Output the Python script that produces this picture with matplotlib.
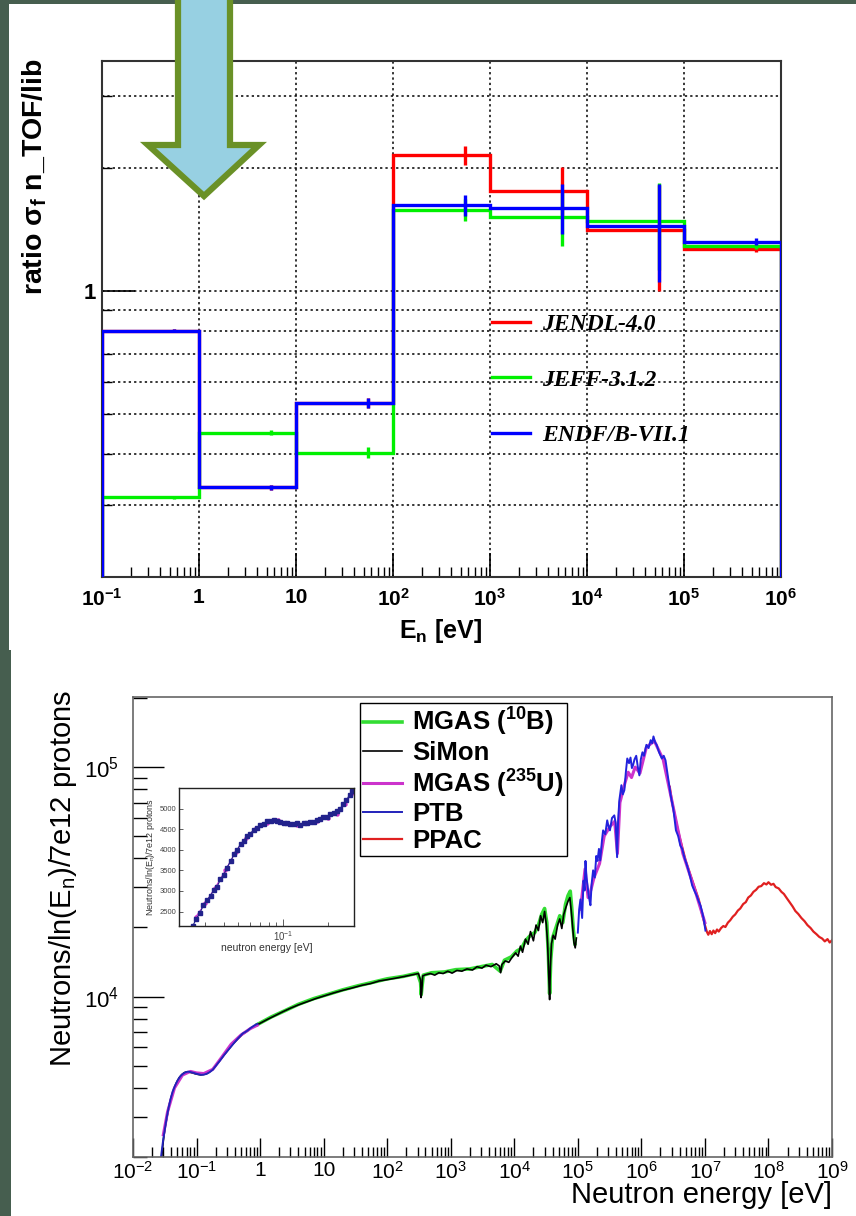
import numpy as np
import matplotlib
matplotlib.use('Agg')
import matplotlib.pyplot as plt
from matplotlib.patches import Polygon, Rectangle
from matplotlib.ticker import FixedLocator, FixedFormatter, NullFormatter, LogLocator

plt.rcParams['font.family'] = ['Liberation Sans', 'DejaVu Sans']
plt.rcParams['mathtext.fontset'] = 'custom'
plt.rcParams['mathtext.rm'] = 'Liberation Sans'
plt.rcParams['mathtext.bf'] = 'Liberation Sans:bold'
plt.rcParams['mathtext.it'] = 'Liberation Sans:italic'

# ---------------- top panel: ratio n_TOF / library ----------------
bin_edges = [0.1, 1, 10, 1e2, 1e3, 1e4, 1e5, 1e6]
ratio_jendl = [0.80, 0.331, 0.533, 2.15, 1.76, 1.41, 1.27]
ratio_jeff = [0.313, 0.451, 0.403, 1.58, 1.52, 1.48, 1.29]
ratio_endf = [0.80, 0.331, 0.533, 1.62, 1.60, 1.44, 1.32]
err_jendl = [0.01, 0.015, 0.03, 0.055, 0.14, 0.29, 0.02]
err_jeff = [0.01, 0.015, 0.03, 0.06, 0.15, 0.24, 0.02]
err_endf = [0.01, 0.015, 0.03, 0.06, 0.14, 0.27, 0.02]
lib_names = ['JENDL-4.0', 'JEFF-3.1.2', 'ENDF/B-VII.1']
top_xticks = [0.1, 1, 10, 1e2, 1e3, 1e4, 1e5, 1e6]
top_xlabels = [r'$\mathbf{10^{-1}}$', '1', '10', r'$\mathbf{10^{2}}$', r'$\mathbf{10^{3}}$',
               r'$\mathbf{10^{4}}$', r'$\mathbf{10^{5}}$', r'$\mathbf{10^{6}}$']
top_ygrid = [0.3, 0.4, 0.5, 0.6, 0.7, 0.8, 0.9, 2, 3]

# ---------------- bottom panel: neutron flux ----------------
simon_e = [0.028, 0.030, 0.032, 0.034, 0.037, 0.040, 0.044, 0.048, 0.053, 0.058, 0.064, 0.070,
           0.078, 0.086, 0.095, 0.105, 0.115, 0.13, 0.145, 0.16, 0.18, 0.20, 0.23, 0.27, 0.32,
           0.38, 0.45, 0.53, 0.62, 0.72, 0.85, 1.0, 1.3, 1.7, 2.3, 3.0, 4.0, 5.5, 7.5, 10, 14,
           20, 28, 40, 55, 75, 100, 140, 190, 250, 310, 335, 342, 350, 362, 400, 480, 560, 650,
           760, 900, 1050, 1250, 1500, 1800, 2200, 2600, 3100, 3600, 4300, 5200, 5800, 6100,
           6400, 7200, 8200, 9200, 10500, 11500, 12500, 13500, 15000, 16500, 18000, 20000,
           22000, 24000, 26000, 28000, 30000, 32000, 33500, 35000, 36000, 37000, 38500, 41000,
           44000, 48000, 52000, 56000, 60000, 65000, 70000, 75000, 79000, 83000, 87000, 91000,
           95000]
simon_y = [1950, 2350, 2700, 2950, 3350, 3650, 3950, 4200, 4420, 4560, 4660, 4700,
           4680, 4650, 4610, 4580, 4560, 4580, 4620, 4700, 4830, 5000, 5250, 5560, 5900,
           6250, 6550, 6850, 7050, 7280, 7480, 7650, 7950, 8250, 8600, 8900, 9200, 9500, 9800,
           10050, 10350, 10650, 10900, 11200, 11400, 11700, 11850, 12050, 12250, 12450, 12600,
           11800, 9900, 10500, 12300, 12450, 12600, 12400, 12700, 12600, 12900, 12650, 13000,
           12900, 13200, 13050, 13500, 13300, 13700, 13500, 13900, 13600, 12700, 13800, 14300,
           14100, 14800, 15500, 15000, 16600, 15600, 17800, 16900, 19200, 17500, 20500, 19400,
           22500, 21000, 23500, 20500, 17000, 12000, 9700, 13500, 17000, 18500, 17800, 20500,
           21800, 19800, 22800, 24500, 26000, 27000, 23500, 20000, 17200, 16300, 18000]

mgas_b_e = [0.9, 1.5, 2.5, 4, 7, 12, 20, 35, 60, 100, 180, 300, 336, 343, 355, 370, 500, 800,
            1200, 2000, 3000, 4500, 6000, 7000, 9000, 11000, 13000, 15000, 18000, 21000, 24000,
            27000, 30000, 32500, 34500, 36000, 37500, 40000, 46000, 52000, 58000, 64000, 70000,
            76000, 80000, 85000, 90000]
mgas_b_y = [7550, 8150, 8700, 9250, 9800, 10250, 10700, 11150, 11550, 11950, 12250, 12650,
            11500, 10200, 11200, 12400, 12700, 12800, 13100, 13200, 13500, 13800, 12900, 14400,
            14900, 15800, 16200, 17500, 18500, 19000, 20500, 22800, 24200, 21000, 15000, 10300,
            14500, 18000, 20200, 22500, 21000, 25200, 27500, 28800, 24500, 19500, 17000]

ptb_low_e = [0.027, 0.0285, 0.030, 0.032, 0.034, 0.0365, 0.039, 0.042, 0.046, 0.050, 0.055,
             0.060, 0.066, 0.073, 0.080, 0.088, 0.097, 0.107, 0.118, 0.13, 0.145, 0.16, 0.18,
             0.20, 0.23, 0.27, 0.32, 0.38, 0.45, 0.53, 0.62, 0.72, 0.82, 0.90]
ptb_low_y = [1900, 2150, 2400, 2680, 2980, 3300, 3580, 3850, 4100, 4300, 4480, 4590, 4670,
             4710, 4690, 4660, 4620, 4590, 4560, 4570, 4610, 4680, 4800, 4980, 5230, 5550,
             5880, 6230, 6580, 6900, 7080, 7320, 7500, 7600]
ptb_high_e = [1.0e5, 1.05e5, 1.1e5, 1.17e5, 1.23e5, 1.28e5, 1.32e5, 1.37e5, 1.42e5, 1.5e5,
              1.58e5, 1.65e5, 1.74e5, 1.85e5, 1.95e5, 2.04e5, 2.15e5, 2.25e5, 2.4e5, 2.5e5,
              2.7e5, 2.9e5, 3.05e5, 3.2e5, 3.45e5, 3.75e5, 3.95e5, 4.15e5, 4.3e5, 4.5e5,
              4.85e5, 5.1e5, 5.4e5, 5.7e5, 6.0e5, 6.4e5, 6.75e5, 7.1e5, 7.4e5, 7.8e5, 8.3e5,
              8.8e5, 9.3e5, 9.8e5, 1.04e6, 1.1e6, 1.2e6, 1.3e6, 1.4e6, 1.48e6, 1.55e6, 1.65e6,
              1.74e6, 1.9e6, 2.1e6, 2.25e6, 2.4e6, 2.6e6, 2.9e6, 3.2e6, 3.5e6, 3.8e6, 4.1e6,
              4.4e6, 4.8e6, 5.2e6, 5.5e6, 5.9e6, 6.3e6, 6.8e6, 7.4e6, 8.0e6, 8.5e6, 9.0e6,
              9.5e6, 1.02e7]
ptb_high_y = [19000, 24000, 26500, 22000, 32000, 29000, 39000, 33000, 30500, 27000, 25000,
              31000, 35500, 33000, 41000, 39000, 44000, 39200, 48000, 53000, 51000, 58600,
              55000, 53000, 60000, 61600, 57000, 40500, 58000, 71600, 83400, 76000, 79300,
              95000, 109000, 104000, 110000, 99000, 102000, 108000, 112000, 100000, 92000,
              108000, 116000, 112000, 125000, 121000, 131000, 127000, 136000, 128000, 125000,
              116000, 109000, 112000, 107000, 92000, 75000, 65000, 53000, 50000, 45500, 44000,
              40000, 37500, 35500, 33000, 30500, 29000, 27600, 26000, 25000, 23500, 22000, 19400]

mgas_u_low_e = [0.030, 0.035, 0.045, 0.06, 0.08, 0.10, 0.13, 0.18, 0.25, 0.35, 0.5, 0.7, 0.9]
mgas_u_low_y = [2500, 3150, 4000, 4550, 4720, 4650, 4620, 4820, 5450, 6200, 6800, 7250, 7500]
mgas_u_high_e = [1.1e5, 1.3e5, 1.45e5, 1.6e5, 1.8e5, 2.2e5, 2.6e5, 3.2e5, 3.8e5, 4.2e5, 4.6e5,
                 5.5e5, 6.2e5, 7.0e5, 8.0e5, 9.5e5, 1.2e6, 1.6e6, 2.2e6, 3.0e6, 4.5e6, 7e6, 1e7]
mgas_u_high_y = [24000, 36000, 27000, 29000, 33000, 38000, 50000, 55000, 58000, 42000, 70000,
                 85000, 95000, 90000, 100000, 94000, 122000, 130000, 108000, 72000, 42000,
                 29000, 21000]

ppac_e = [2.8e6, 3.0e6, 3.3e6, 3.7e6, 4.2e6, 5.0e6, 6.0e6, 7.0e6, 8.0e6, 9.0e6, 1.0e7, 1.07e7,
          1.13e7, 1.2e7, 1.28e7, 1.36e7, 1.45e7, 1.55e7, 1.65e7, 1.8e7, 1.95e7, 2.1e7, 2.3e7,
          2.5e7, 2.75e7, 3.0e7, 3.3e7, 3.6e7, 4.0e7, 4.4e7, 4.8e7, 5.3e7, 5.8e7, 6.4e7, 7.0e7,
          7.7e7, 8.5e7, 9.3e7, 1.0e8, 1.1e8, 1.2e8, 1.3e8, 1.45e8, 1.6e8, 1.75e8, 1.95e8,
          2.15e8, 2.4e8, 2.65e8, 2.95e8, 3.3e8, 3.7e8, 4.1e8, 4.6e8, 5.1e8, 5.7e8, 6.3e8,
          7.0e8, 7.7e8, 8.5e8, 9.2e8, 1.0e9]
ppac_y = [82000, 72000, 63000, 54000, 47000, 39000, 33500, 29500, 26500, 23000, 20500, 19200,
          18600, 19300, 18700, 19400, 18900, 19600, 19200, 19900, 20300, 20100, 21000, 21500,
          22300, 22800, 23700, 24200, 25300, 25800, 27000, 27600, 28600, 29200, 30100, 30300,
          31200, 30800, 31500, 30700, 31000, 30000, 29600, 28600, 28000, 26800, 25800, 24700,
          23600, 22900, 22000, 21300, 20500, 19900, 19200, 18700, 18200, 17900, 17400, 17800,
          17200, 17600]

bot_xticks = [1e-2, 1e-1, 1, 10, 1e2, 1e3, 1e4, 1e5, 1e6, 1e7, 1e8, 1e9]
bot_xlabels = [r'$10^{-2}$', r'$10^{-1}$', '1', '10', r'$10^{2}$', r'$10^{3}$', r'$10^{4}$',
               r'$10^{5}$', r'$10^{6}$', r'$10^{7}$', r'$10^{8}$', r'$10^{9}$']

# inset (thermal region)
inset_e = [0.0248, 0.0262, 0.0277, 0.0292, 0.0309, 0.0326, 0.0343, 0.0360, 0.0380, 0.0400,
           0.0420, 0.0445, 0.0470, 0.0490, 0.0520, 0.0545, 0.0573, 0.0600, 0.0635, 0.0669,
           0.0705, 0.0745, 0.0781, 0.0825, 0.0870, 0.0912, 0.0960, 0.101, 0.106, 0.112, 0.118,
           0.124, 0.131, 0.138, 0.145, 0.153, 0.161, 0.169, 0.178, 0.187, 0.197, 0.208, 0.219,
           0.230, 0.242, 0.254, 0.267, 0.280, 0.292]
inset_ptb = [2160, 2330, 2470, 2660, 2780, 2890, 3030, 3100, 3280, 3390, 3570, 3720, 3900,
             3990, 4150, 4220, 4330, 4390, 4480, 4520, 4610, 4630, 4690, 4700, 4720, 4690,
             4680, 4660, 4660, 4630, 4620, 4640, 4600, 4640, 4640, 4680, 4680, 4730, 4750,
             4800, 4790, 4860, 4890, 4950, 5000, 5110, 5200, 5340, 5420]
inset_mgas_e = [0.026, 0.030, 0.035, 0.041, 0.048, 0.056, 0.066, 0.078, 0.092, 0.108, 0.125,
                0.145, 0.17, 0.20, 0.23, 0.26, 0.29]
inset_mgas_y = [2380, 2700, 3080, 3500, 3950, 4280, 4520, 4650, 4720, 4640, 4600, 4660, 4700,
                4780, 4880, 5100, 5380]

W, H = 856, 1216
fig = plt.figure(figsize=(W / 100, H / 100), dpi=100)
fig.patch.set_facecolor('#465e4f')


def fx(px):
    return px / W


def fy(py):
    return 1 - py / H


fig.add_artist(Rectangle((fx(9), fy(650)), 1, fy(4) - fy(650), transform=fig.transFigure,
                         facecolor='white', edgecolor='none', zorder=-5))
fig.add_artist(Rectangle((fx(11), 0), 1, fy(650), transform=fig.transFigure,
                         facecolor='white', edgecolor='none', zorder=-5))

# ---- top axes ----
ax = fig.add_axes([fx(102), fy(577), fx(781) - fx(102), fy(61) - fy(577)])
ax.set_xscale('log')
ax.set_yscale('log')
ymin = 0.2
ax.set_xlim(0.1, 1e6)
ax.set_ylim(ymin, 3.65)

edges = np.array(bin_edges)
centers = (edges[:-1] + edges[1:]) / 2
series = [(ratio_jendl, err_jendl, '#ff0000'), (ratio_jeff, err_jeff, '#00f000'),
          (ratio_endf, err_endf, '#0000ff')]
handles = []
for (vals, errs, col), name in zip(series, lib_names):
    ax.stairs(vals, edges, baseline=ymin, color=col, lw=2.4, zorder=3)
    ax.errorbar(centers, vals, yerr=np.array(vals) * np.array(errs), fmt='none',
                ecolor=col, elinewidth=2.4, capsize=0, zorder=3)
    h, = ax.plot([], [], color=col, lw=2.4, label=name)
    handles.append(h)

ax.xaxis.set_major_locator(FixedLocator(top_xticks))
ax.xaxis.set_major_formatter(FixedFormatter(top_xlabels))
ax.xaxis.set_minor_locator(LogLocator(base=10, subs=np.arange(2, 10), numticks=100))
ax.xaxis.set_minor_formatter(NullFormatter())
ax.yaxis.set_major_locator(FixedLocator([1]))
ax.yaxis.set_major_formatter(FixedFormatter(['1']))
ax.yaxis.set_minor_locator(FixedLocator(top_ygrid))
ax.yaxis.set_minor_formatter(NullFormatter())
ax.tick_params(axis='x', which='major', direction='in', length=17, width=1.2,
               labelsize=15, pad=8)
ax.tick_params(axis='y', which='major', direction='in', length=24, width=1.2,
               labelsize=16, pad=4)
ax.tick_params(axis='both', which='minor', direction='in', length=7, width=1.0)
for lab in ax.get_xticklabels() + ax.get_yticklabels():
    lab.set_fontweight('bold')
ax.grid(True, which='major', axis='x', color='black', ls=(0, (1.5, 2)), lw=1.1)
ax.grid(True, which='both', axis='y', color='black', ls=(0, (1.5, 2)), lw=1.1)
for sp in ax.spines.values():
    sp.set_linewidth(1.5)
    sp.set_color('#333333')

leg = ax.legend(handles=handles, loc='upper left', bbox_to_anchor=(0.574, 0.511),
                frameon=False, borderpad=0, borderaxespad=0, handlelength=1.6,
                handletextpad=0.55, labelspacing=1.45,
                prop={'family': 'Liberation Serif', 'weight': 'bold', 'style': 'italic',
                      'size': 17})

fig.text(fx(35), fy(58), r'ratio σ$_\mathbf{f}$ n_TOF/lib', rotation=90, ha='center',
         va='top', fontsize=20.5, fontweight='bold')
fig.text(fx(441), fy(631), r'E$_\mathbf{n}$ [eV]', ha='center', va='center', fontsize=18,
         fontweight='bold')

# arrow decoration
arrow_pts = [(178, -10), (230, -10), (230, 145), (259, 145), (204, 196), (148, 145),
             (178, 145)]
fig.add_artist(Polygon([(fx(x), fy(y)) for x, y in arrow_pts], closed=True,
                       transform=fig.transFigure, facecolor='#97d0e2', edgecolor='#6a9127',
                       lw=4.5, joinstyle='miter', zorder=10))

# ---- bottom axes ----
bx = fig.add_axes([fx(133), fy(1157), fx(832) - fx(133), fy(697) - fy(1157)])
bx.set_xscale('log')
bx.set_yscale('log')
bx.set_xlim(1e-2, 1e9)
bx.set_ylim(2000, 2.02e5)

h_b, = bx.plot(mgas_b_e, mgas_b_y, color='#33dd33', lw=2.6, label=r'MGAS ($^{\mathbf{10}}$B)')
h_s, = bx.plot(simon_e, simon_y, color='black', lw=1.2, label='SiMon')
h_p, = bx.plot(ppac_e, ppac_y, color='#e02020', lw=1.6, label='PPAC')
h_u, = bx.plot(mgas_u_low_e, mgas_u_low_y, color='#cc33cc', lw=2.2,
               label=r'MGAS ($^{\mathbf{235}}$U)')
bx.plot(mgas_u_high_e, mgas_u_high_y, color='#cc33cc', lw=2.2)
h_t, = bx.plot(ptb_low_e, ptb_low_y, color='#2222bb', lw=1.4, label='PTB')
bx.plot(ptb_high_e, ptb_high_y, color='#2222dd', lw=1.4)

bx.xaxis.set_major_locator(FixedLocator(bot_xticks))
bx.xaxis.set_major_formatter(FixedFormatter(bot_xlabels))
bx.xaxis.set_minor_locator(LogLocator(base=10, subs=np.arange(2, 10), numticks=100))
bx.xaxis.set_minor_formatter(NullFormatter())
bx.yaxis.set_major_locator(FixedLocator([1e4, 1e5]))
bx.yaxis.set_major_formatter(FixedFormatter([r'$10^{4}$', r'$10^{5}$']))
bx.yaxis.set_minor_locator(LogLocator(base=10, subs=np.arange(2, 10), numticks=100))
bx.yaxis.set_minor_formatter(NullFormatter())
bx.tick_params(axis='x', which='major', direction='in', length=14, width=1.0, labelsize=15,
               pad=3)
bx.tick_params(axis='x', which='minor', direction='in', length=7, width=1.0)
bx.tick_params(axis='y', which='major', direction='in', length=22, width=1.0, labelsize=16,
               pad=10)
bx.tick_params(axis='y', which='minor', direction='in', length=10, width=1.0)
for sp in bx.spines.values():
    sp.set_linewidth(1.2)
    sp.set_color('#666666')

lg = bx.legend(handles=[h_b, h_s, h_u, h_t, h_p], loc='upper left',
               bbox_to_anchor=(0.325, 0.987), fancybox=False, framealpha=1,
               edgecolor='black', borderpad=0.12, borderaxespad=0, handlelength=1.5,
               handletextpad=0.4, labelspacing=0.1,
               prop={'weight': 'bold', 'size': 18.5})
lg.get_frame().set_linewidth(1.0)

fig.text(fx(63), fy(690), r'Neutrons/ln(E$_\mathrm{n}$)/7e12 protons', rotation=90,
         ha='center', va='top', fontsize=21)
fig.text(fx(832), fy(1203), 'Neutron energy [eV]', ha='right', va='baseline', fontsize=21)

# ---- inset ----
ix = fig.add_axes([fx(179), fy(926), fx(354) - fx(179), fy(788) - fy(926)])
ix.set_xscale('log')
ix.set_xlim(0.02, 0.3)
ix.set_ylim(2150, 5500)
ix.plot(inset_mgas_e, inset_mgas_y, color='#cc33cc', marker='o', ms=2.2, lw=0.8)
ix.plot(inset_e, inset_ptb, color='#22228c', marker='s', ms=2.2, lw=0.8)
ix.xaxis.set_major_locator(FixedLocator([0.1]))
ix.xaxis.set_major_formatter(FixedFormatter([r'$10^{-1}$']))
ix.xaxis.set_minor_locator(LogLocator(base=10, subs=np.arange(2, 10), numticks=100))
ix.xaxis.set_minor_formatter(NullFormatter())
ix.yaxis.set_major_locator(FixedLocator([2500, 3000, 3500, 4000, 4500, 5000]))
ix.tick_params(axis='both', which='both', direction='in', labelsize=5.5, colors='#444444',
               length=3, width=0.6, pad=2)
ix.tick_params(axis='x', which='major', labelsize=7, length=5)
ix.set_xlabel('neutron energy [eV]', fontsize=7.5, color='#333333', labelpad=0)
ix.set_ylabel(r'Neutrons/ln(E$_\mathrm{n}$)/7e12 protons', fontsize=6.5, color='#333333',
              labelpad=2)
for sp in ix.spines.values():
    sp.set_linewidth(1.0)
    sp.set_color('#222222')

fig.savefig('out.png', dpi=100, facecolor=fig.get_facecolor())
